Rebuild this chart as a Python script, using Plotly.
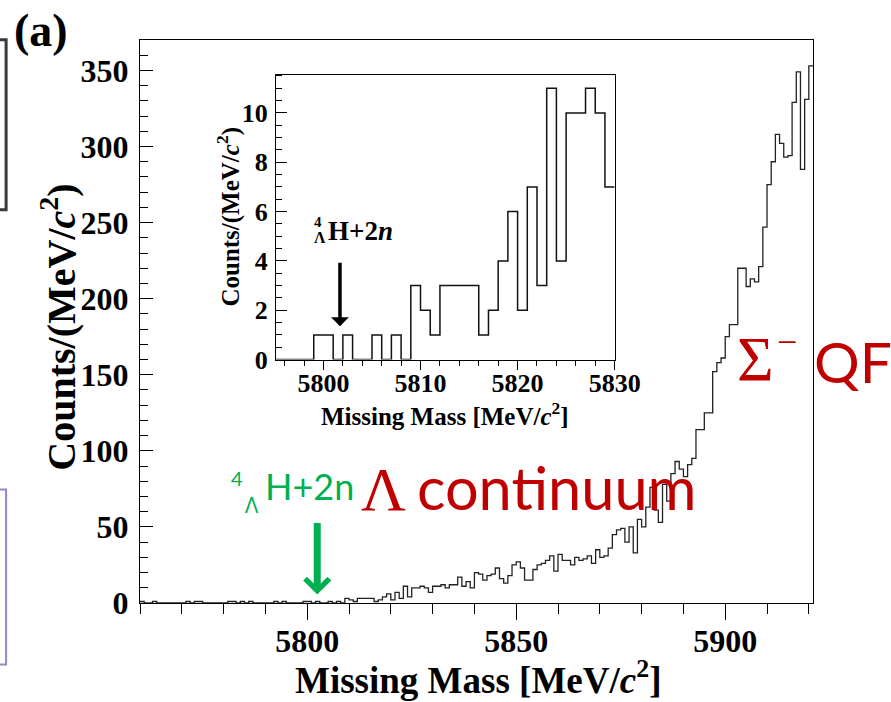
import plotly.graph_objects as go

# ---------------- data ----------------
main_first_edge = 5760      # MeV/c^2, bin width 1 MeV
main_counts = [
    1, 0, 0, 1, 0, 0, 0, 0, 0, 0,          # 5760-5769
    0, 1, 0, 1, 1, 0, 0, 0, 0, 0,          # 5770-5779
    0, 1, 1, 0, 1, 0, 1, 0, 0, 0,          # 5780-5789
    0, 0, 1, 0, 1, 0, 0, 0, 0, 1,          # 5790-5799
    1, 0, 1, 0, 0, 1, 0, 1, 0, 3,          # 5800-5809
    2, 1, 3, 3, 3, 3, 1, 2, 4, 6,          # 5810-5819
    2, 7, 3, 11, 4, 10, 10, 11, 10, 7,     # 5820-5829
    11, 11, 12, 10, 12, 12, 17, 11, 14, 10,  # 5830-5839
    20, 19, 15, 18, 19, 23, 16, 13, 18, 25,  # 5840-5849
    27, 23, 15, 15, 22, 25, 26, 28, 31, 21,  # 5850-5859
    32, 28, 28, 25, 30, 28, 29, 31, 26, 35,  # 5860-5869
    30, 31, 36, 45, 48, 49, 40, 50, 33, 55,  # 5870-5879
    50, 63, 76, 61, 53, 78, 67, 85, 93, 88,  # 5880-5889
    83, 91, 95, 114, 114, 125, 125, 152, 158, 161,   # 5890-5899
    175, 183, 183, 220, 220, 208, 213, 211, 221, 247,  # 5900-5909
    275, 290, 308, 302, 293, 294, 329, 349, 285, 331,  # 5910-5919
    353,                                    # 5920
]

inset_first_edge = 5795
inset_counts = [
    0, 0, 0, 0, 1,        # 5795-5799
    1, 0, 1, 0, 0, 1, 0, 1, 0, 3,   # 5800-5809
    2, 1, 3, 3, 3, 3, 1, 2, 4, 6,   # 5810-5819
    2, 7, 3, 11, 4, 10, 10, 11, 10, 7,  # 5820-5829
]

main_xrange = [5760, 5921]
main_yrange = [0, 370]
inset_xrange = [5795.1, 5830]
inset_yrange = [0, 11.55]

main_xticks = [5800, 5850, 5900]
inset_xticks = [5800, 5810, 5820, 5830]

threshold_main = 5802.4     # arrow position (green, slide overlay)
threshold_inset = 5801.7    # arrow position (inset)

# ---------------- build ----------------
def step_xy(first_edge, counts):
    xs = [first_edge + i for i in range(len(counts) + 1)]
    ys = list(counts) + [counts[-1]]
    return xs, ys

mx, my = step_xy(main_first_edge, main_counts)
ix, iy = step_xy(inset_first_edge, inset_counts)

W, H = 891, 702
L, R, T, B = 140, 813.5, 40.3, 603.5
PW, PH = R - L, B - T


def P(px, py):
    return (px - L) / PW, (B - py) / PH


SERIF = "Liberation Serif"
fig = go.Figure()
fig.add_trace(go.Scatter(x=mx, y=my, mode="lines",
                         line=dict(shape="hv", color="#222222", width=1.3),
                         xaxis="x", yaxis="y", showlegend=False, hoverinfo="skip"))
fig.add_trace(go.Scatter(x=ix, y=iy, mode="lines",
                         line=dict(shape="hv", color="#111111", width=1.5),
                         xaxis="x2", yaxis="y2", showlegend=False, hoverinfo="skip"))

ins_x0, ins_y0 = P(276, 360)
ins_x1, ins_y1 = P(615, 75)

tick_main = dict(family=SERIF, size=32, color="black", weight="bold")
tick_ins = dict(family=SERIF, size=26, color="black", weight="bold")

fig.update_layout(
    width=W, height=H, autosize=False,
    margin=dict(l=L, r=W - R, t=T, b=H - B, pad=0),
    paper_bgcolor="white", plot_bgcolor="white",
    xaxis=dict(domain=[0, 1], range=main_xrange, anchor="y",
               showline=True, mirror=True, linecolor="black", linewidth=1,
               ticks="outside", ticklen=16, tickwidth=1, tickcolor="black",
               tickvals=main_xticks, tickfont=tick_main, ticklabelstandoff=-6,
               minor=dict(dtick=10, tick0=5760, ticks="outside", ticklen=10,
                          tickwidth=1, tickcolor="black", showgrid=False),
               showgrid=False, zeroline=False),
    yaxis=dict(domain=[0, 1], range=main_yrange, anchor="x",
               showline=True, mirror=True, linecolor="black", linewidth=1,
               ticks="inside", ticklen=13, tickwidth=1, tickcolor="black",
               dtick=50, tick0=0, tickfont=tick_main, ticklabelstandoff=4,
               minor=dict(dtick=10, ticks="inside", ticklen=8,
                          tickwidth=1, tickcolor="black", showgrid=False),
               showgrid=False, zeroline=False),
    xaxis2=dict(domain=[ins_x0, ins_x1], range=inset_xrange, anchor="y2",
                showline=True, mirror=True, linecolor="black", linewidth=1,
                ticks="outside", ticklen=9, tickwidth=1, tickcolor="black",
                tickvals=inset_xticks, tickfont=tick_ins, ticklabelstandoff=-9,
                minor=dict(dtick=2, tick0=5800, ticks="outside", ticklen=5,
                           tickwidth=1, tickcolor="black", showgrid=False),
                showgrid=False, zeroline=False),
    yaxis2=dict(domain=[ins_y0, ins_y1], range=inset_yrange, anchor="x2",
                showline=True, mirror=True, linecolor="black", linewidth=1,
                ticks="inside", ticklen=11, tickwidth=1, tickcolor="black",
                dtick=2, tick0=0, tickfont=tick_ins, ticklabelstandoff=2,
                minor=dict(dtick=0.5, ticks="inside", ticklen=6,
                           tickwidth=1, tickcolor="black", showgrid=False),
                showgrid=False, zeroline=False),
)

ann = []


def text(px, py, s, size, color="black", family=SERIF, weight="normal",
         xanchor="center", angle=0):
    x, y = P(px, py)
    ann.append(dict(x=x, y=y, xref="paper", yref="paper", text=s, showarrow=False,
                    xanchor=xanchor, yanchor="middle", textangle=angle,
                    font=dict(family=family, size=size, color=color, weight=weight)))


# panel label and axis titles
text(12, 31, "(a)", 46, weight="bold", xanchor="left")
text(59, 328, "Counts/(MeV/<i>c</i><sup>2</sup>)", 40, weight="bold", angle=-90)
text(478, 678, "Missing Mass [MeV/<i>c</i><sup>2</sup>]", 37, weight="bold")
text(445, 414, "Missing Mass [MeV/<i>c</i><sup>2</sup>]", 25, weight="bold")
text(229, 217, "Counts/(MeV/<i>c</i><sup>2</sup>)", 25, weight="bold", angle=-90)

# inset label
text(318.5, 222, "4", 15, weight="bold")
text(320.5, 237.6, "Λ", 16, weight="bold")
text(326, 231, "H+2<i>n</i>", 27, weight="bold", xanchor="left")

# slide overlays
GREEN = "#00b050"
RED = "#c00000"
text(229, 478, "4", 20, color=GREEN, family="Lato", xanchor="left")
text(252.5, 504, "Λ", 22, color=GREEN, family="Open Sans")
text(263, 486, "H+2n", 36, color=GREEN, family="Lato", xanchor="left")
text(384, 489, "Λ", 62, color=RED, family=SERIF)
text(415, 487, "continuum", 59.5, color=RED, family="Lato", xanchor="left")
text(755.5, 360.7, "Σ", 63, color=RED, family=SERIF)
text(787, 342, "−", 36, color=RED, family=SERIF)
text(812, 361, "QF", 57, color=RED, family="Lato", xanchor="left")

# arrows
ann.append(dict(x=threshold_main, y=5.6, xref="x", yref="y", ax=0, ay=-73,
                axref="pixel", ayref="pixel", text="", showarrow=True,
                arrowhead=4, arrowwidth=7, arrowsize=0.67, arrowcolor=GREEN))
ann.append(dict(x=threshold_inset, y=1.35, xref="x2", yref="y2", ax=0, ay=-65,
                text="", showarrow=True,
                arrowhead=1, arrowwidth=3.5, arrowsize=0.85, arrowcolor="black"))

fig.update_layout(annotations=ann)

# partial slide boxes at the left edge
gx0, gy0 = P(-30, 210)
gx1, gy1 = P(6, 40)
px0, py0 = P(-30, 665)
px1, py1 = P(6, 490)
fig.update_layout(shapes=[
    dict(type="rect", xref="paper", yref="paper", x0=gx0, x1=gx1, y0=gy0, y1=gy1,
         line=dict(color="#3a3a3a", width=3), fillcolor="rgba(0,0,0,0)", layer="above"),
    dict(type="rect", xref="paper", yref="paper", x0=px0, x1=px1, y0=py0, y1=py1,
         line=dict(color="#9b86c2", width=2), fillcolor="rgba(0,0,0,0)", layer="above"),
])

fig.write_html("out.html")
